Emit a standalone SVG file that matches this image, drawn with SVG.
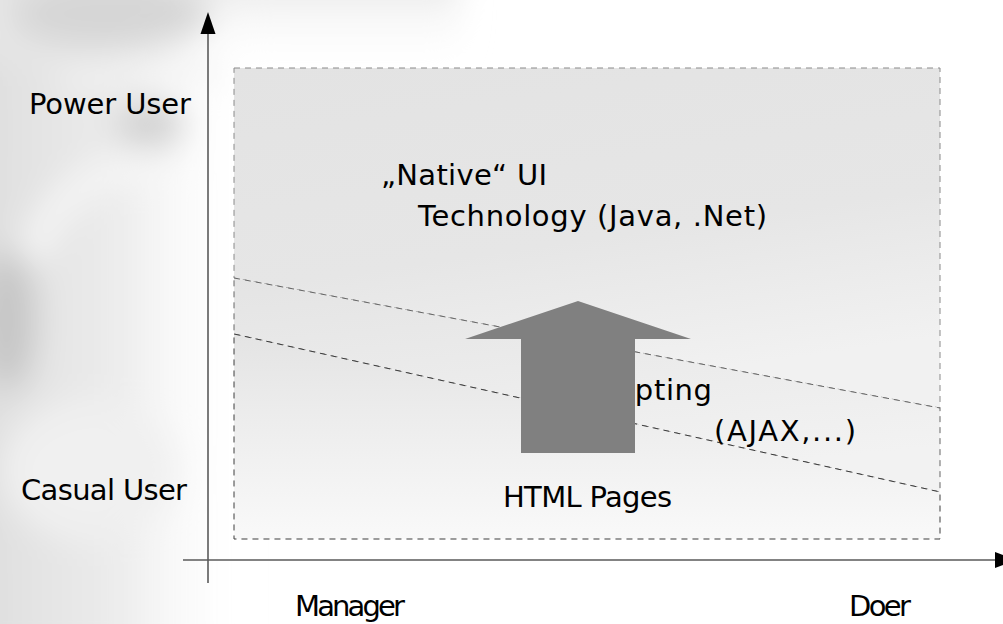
<svg xmlns="http://www.w3.org/2000/svg" width="1003" height="624" viewBox="0 0 1003 624">
  <defs>
    <style>
      .lbl { font-family: "DejaVu Sans", "Liberation Sans", sans-serif; font-size: 29px; fill: #000; }
      .axis { stroke: #5a5a5a; stroke-width: 1.6; fill: none; }
      .head { fill: #000; }
      .zone { stroke-width: 1; stroke-dasharray: 6 5; }
    </style>
    <filter id="soft" x="-50%" y="-50%" width="200%" height="200%">
      <feGaussianBlur stdDeviation="16"/>
    </filter>
    <linearGradient id="fadeLeft" x1="0" y1="0" x2="1" y2="0">
      <stop offset="0" stop-color="#dcdcdc"/>
      <stop offset="0.55" stop-color="#ececec"/>
      <stop offset="1" stop-color="#ffffff" stop-opacity="0"/>
    </linearGradient>
    <linearGradient id="fadeTop" x1="0" y1="0" x2="0" y2="1">
      <stop offset="0" stop-color="#dedede"/>
      <stop offset="1" stop-color="#ffffff" stop-opacity="0"/>
    </linearGradient>
    <linearGradient id="gTop" x1="0" y1="0" x2="0.3" y2="1">
      <stop offset="0" stop-color="#e3e3e3"/>
      <stop offset="0.6" stop-color="#e6e6e6"/>
      <stop offset="1" stop-color="#f1f1f1"/>
    </linearGradient>
    <linearGradient id="gMid" x1="0" y1="0" x2="0.3" y2="1">
      <stop offset="0" stop-color="#e4e4e4"/>
      <stop offset="1" stop-color="#f2f2f2"/>
    </linearGradient>
    <linearGradient id="gLow" x1="0" y1="0" x2="0" y2="1">
      <stop offset="0" stop-color="#e4e4e4"/>
      <stop offset="1" stop-color="#f9f9f9"/>
    </linearGradient>
  </defs>

  <rect width="1003" height="624" fill="#ffffff"/>

  <!-- soft grey decoration in the upper left corner -->
  <g id="backdrop" filter="url(#soft)">
    <rect x="-40" y="-40" width="290" height="700" fill="url(#fadeLeft)"/>
    <rect x="-40" y="-40" width="500" height="110" fill="url(#fadeTop)"/>
    <ellipse cx="110" cy="15" rx="100" ry="35" fill="#d6d6d6"/>
    <ellipse cx="8" cy="320" rx="28" ry="70" fill="#c6c6c6"/>
    <ellipse cx="150" cy="125" rx="35" ry="24" fill="#d2d2d2"/>
    <path d="M30 260 Q 60 160 180 165" stroke="#f7f7f7" stroke-width="24" fill="none"/>
    <path d="M60 85 Q 130 55 220 75" stroke="#f1f1f1" stroke-width="16" fill="none"/>
    <ellipse cx="90" cy="470" rx="90" ry="70" fill="#f0f0f0"/>
  </g>

  <!-- layered technology zones inside the chart area -->
  <g id="zones">
    <polygon id="zone-native" class="zone" points="234,68 940,68 940,408 234,278" fill="url(#gTop)" stroke="#8a8a8a"/>
    <polygon id="zone-scripting" class="zone" points="234,278 940,408 940,492 234,334" fill="url(#gMid)" stroke="#666666"/>
    <polygon id="zone-html" class="zone" points="234,334 940,492 940,539 234,539" fill="url(#gLow)" stroke="#3c3c3c"/>
  </g>

  <!-- axes -->
  <g id="connectors">
    <line class="axis" x1="208" y1="583" x2="208" y2="30"/>
    <polygon class="head" points="208,12 200.5,34 215.5,34"/>
    <line class="axis" x1="183" y1="560" x2="996" y2="560"/>
    <polygon class="head" points="995,552 995,568 1017,560"/>
  </g>

  <g id="axis-labels">
    <text class="lbl" x="29" y="114" textLength="162">Power User</text>
    <text class="lbl" x="21" y="500" textLength="166">Casual User</text>
    <text class="lbl" x="295" y="616" textLength="110">Manager</text>
    <text class="lbl" x="849" y="616" textLength="62">Doer</text>
  </g>

  <g id="zone-labels">
    <text class="lbl" x="381" y="185" textLength="166">„Native“ UI</text>
    <text class="lbl" x="418" y="226" textLength="349">Technology (Java, .Net)</text>
    <text class="lbl" x="578" y="400" textLength="134">Scripting</text>
    <text class="lbl" x="714" y="441" textLength="142">(AJAX,...)</text>
    <text class="lbl" x="503" y="507" textLength="169">HTML Pages</text>
  </g>

  <!-- upward shift arrow -->
  <g id="shift-arrow">
    <polygon points="578,301 691,339 635,339 635,453 521,453 521,339 465,339" fill="#808080"/>
  </g>
</svg>
